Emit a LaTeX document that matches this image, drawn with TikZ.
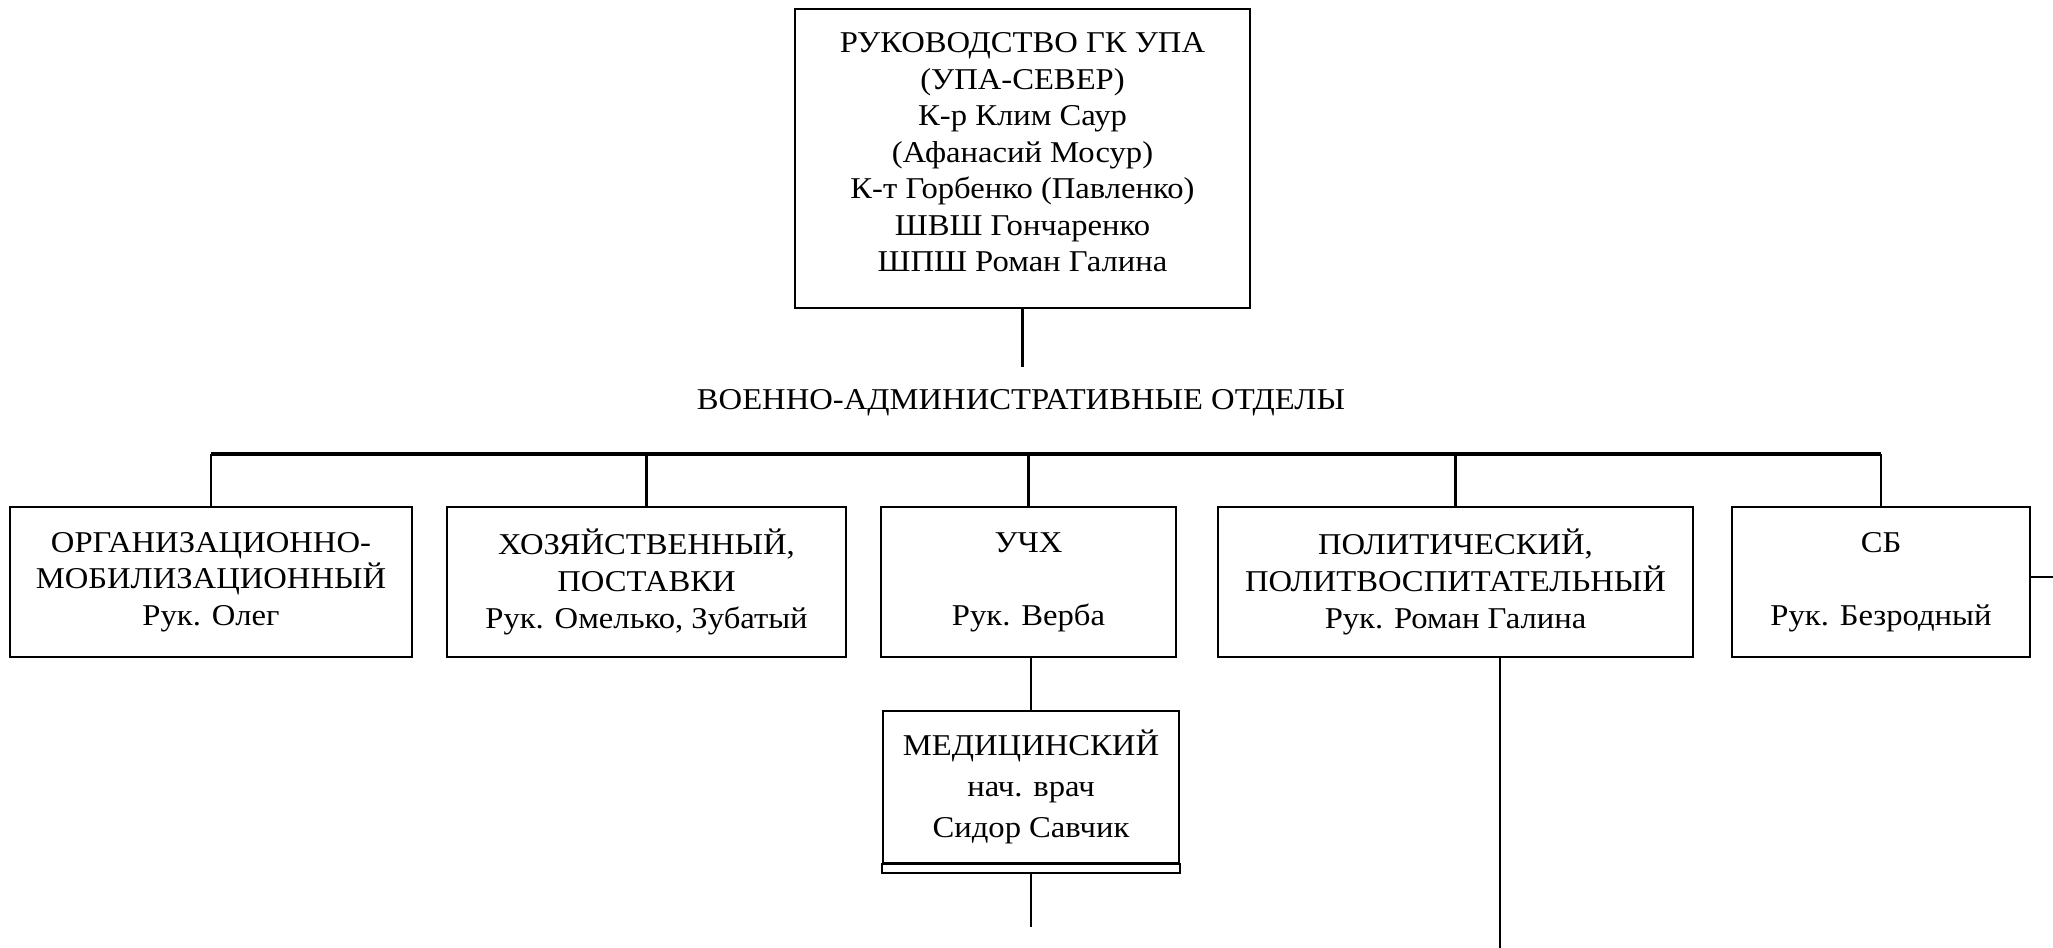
\documentclass[tikz,border=0pt]{standalone}
\usepackage{fontspec}
\setmainfont{Liberation Serif}[FakeStretch=1.08]

\begin{document}
\begin{tikzpicture}[line width=0.8pt,
  font=\fontsize{8.6}{10.4}\selectfont,
  dept/.style={draw, align=center, minimum height=1.5cm, inner sep=0pt},
  link/.style={line width=0.6pt}]
  \useasboundingbox (0,0) rectangle (20.53,-9.48);
  \node[draw, align=center, minimum width=4.55cm, minimum height=2.99cm] (lead) at (10.225,-1.585)
    {РУКОВОДСТВО ГК УПА\\(УПА-СЕВЕР)\\К-р Клим Саур\\(Афанасий Мосур)\\К-т Горбенко (Павленко)\\ШВШ Гончаренко\\ШПШ Роман Галина\\[-0.8em]\mbox{}};
  \node[anchor=base, inner xsep=0pt, inner ysep=0.22cm] (title) at (10.21,-4.10) {ВОЕННО-АДМИНИСТРАТИВНЫЕ ОТДЕЛЫ};
  \coordinate (bus) at (0,-4.54);
  \node[dept, minimum width=4.02cm] (org) at (2.11,-5.82) {ОРГАНИЗАЦИОННО-\\МОБИЛИЗАЦИОННЫЙ\\Рук. Олег};
  \node[dept, minimum width=3.99cm] (supply) at (6.465,-5.82) {ХОЗЯЙСТВЕННЫЙ,\\ПОСТАВКИ\\Рук. Омелько, Зубатый};
  \node[dept, minimum width=2.95cm] (uchh) at (10.285,-5.82) {УЧХ\\\mbox{}\\Рук. Верба};
  \node[dept, minimum width=4.75cm] (polit) at (14.555,-5.82) {ПОЛИТИЧЕСКИЙ,\\ПОЛИТВОСПИТАТЕЛЬНЫЙ\\Рук. Роман Галина};
  \node[dept, minimum width=2.98cm] (sb) at (18.81,-5.82) {СБ\\\mbox{}\\Рук. Безродный};
  \node[dept, minimum width=2.96cm, minimum height=1.52cm, font=\fontsize{8.6}{11.6}\selectfont] (med) at (10.31,-7.87)
    {МЕДИЦИНСКИЙ\\нач. врач\\Сидор Савчик};
  \draw[line width=0.6pt] (med.south west) rectangle ([yshift=-0.09cm]med.south east);
  \coordinate (medend) at (10.31,-9.27);
  \coordinate (politend) at (15.00,-9.48);
  \coordinate (sbend) at (20.53,-5.77);

  \draw[link] (lead.south) -- (lead.south |- title.north);
  \draw[line width=1pt] (org.north |- bus) -- (sb.north |- bus);
  \foreach \n in {org,supply,uchh,polit,sb}
    \draw[link] (\n.north) -- (\n.north |- bus);
  \draw[link] (med.north) -- (med.north |- uchh.south);
  \draw[link] ([yshift=-0.09cm]med.south) -- (medend);
  \draw[line width=0.8pt] (politend |- polit.south) -- (politend);
  \draw[link] (sb.east |- sbend) -- (sbend);
\end{tikzpicture}
\end{document}
